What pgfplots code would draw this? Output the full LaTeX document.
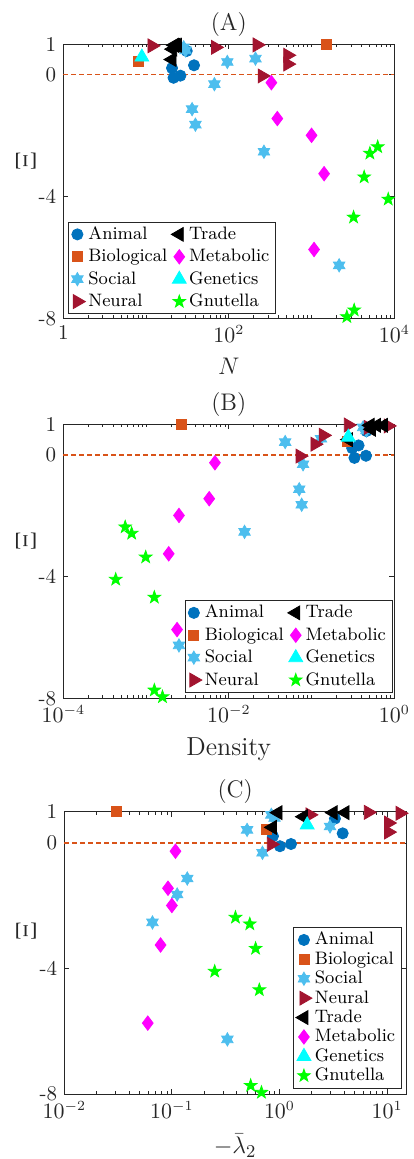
\documentclass[border=0pt]{standalone}
\usepackage{pgfplots}
\usepackage{pgfplotstable}
\pgfplotsset{compat=1.18}

\definecolor{cAnimal}{rgb}{0,0.447,0.741}
\definecolor{cBio}{rgb}{0.85,0.325,0.098}
\definecolor{cSocial}{rgb}{0.301,0.745,0.933}
\definecolor{cNeural}{rgb}{0.635,0.078,0.184}
\definecolor{cMetab}{rgb}{1,0,1}
\definecolor{cGenet}{rgb}{0,1,1}
\definecolor{cGnut}{rgb}{0,1,0}
\definecolor{axgray}{rgb}{0.15,0.15,0.15}

% six-pointed star (hexagram)
\pgfdeclareplotmark{hexstar}{%
  \pgfpathmoveto{\pgfpointpolar{90}{\pgfplotmarksize}}%
  \pgfpathlineto{\pgfpointpolar{120}{0.577\pgfplotmarksize}}%
  \pgfpathlineto{\pgfpointpolar{150}{\pgfplotmarksize}}%
  \pgfpathlineto{\pgfpointpolar{180}{0.577\pgfplotmarksize}}%
  \pgfpathlineto{\pgfpointpolar{210}{\pgfplotmarksize}}%
  \pgfpathlineto{\pgfpointpolar{240}{0.577\pgfplotmarksize}}%
  \pgfpathlineto{\pgfpointpolar{270}{\pgfplotmarksize}}%
  \pgfpathlineto{\pgfpointpolar{300}{0.577\pgfplotmarksize}}%
  \pgfpathlineto{\pgfpointpolar{330}{\pgfplotmarksize}}%
  \pgfpathlineto{\pgfpointpolar{0}{0.577\pgfplotmarksize}}%
  \pgfpathlineto{\pgfpointpolar{30}{\pgfplotmarksize}}%
  \pgfpathlineto{\pgfpointpolar{60}{0.577\pgfplotmarksize}}%
  \pgfpathclose\pgfusepathqfillstroke}
% five-pointed star
\pgfdeclareplotmark{fivestar}{%
  \pgfpathmoveto{\pgfpointpolar{90}{\pgfplotmarksize}}%
  \pgfpathlineto{\pgfpointpolar{126}{0.4\pgfplotmarksize}}%
  \pgfpathlineto{\pgfpointpolar{162}{\pgfplotmarksize}}%
  \pgfpathlineto{\pgfpointpolar{198}{0.4\pgfplotmarksize}}%
  \pgfpathlineto{\pgfpointpolar{234}{\pgfplotmarksize}}%
  \pgfpathlineto{\pgfpointpolar{270}{0.4\pgfplotmarksize}}%
  \pgfpathlineto{\pgfpointpolar{306}{\pgfplotmarksize}}%
  \pgfpathlineto{\pgfpointpolar{342}{0.4\pgfplotmarksize}}%
  \pgfpathlineto{\pgfpointpolar{18}{\pgfplotmarksize}}%
  \pgfpathlineto{\pgfpointpolar{54}{0.4\pgfplotmarksize}}%
  \pgfpathclose\pgfusepathqfillstroke}

% columns: N = size, D = density, L = -lambda_2, Xi
\pgfplotstableread{
N D L Xi
31 0.46 3.28 0.78
38 0.37 3.87 0.31
20.6 0.31 0.87 0.22
26 0.455 1.28 -0.03
21.5 0.33 1.01 -0.10
}\tabAnimal
\pgfplotstableread{
N D L Xi
8.0 0.27 0.76 0.45
1510 0.0027 0.0303 1.0
}\tabBio
\pgfplotstableread{
N D L Xi
28.5 0.42 0.84 0.90
30 0.46 0.90 0.80
96 0.048 0.50 0.42
210 0.13 2.95 0.53
67 0.079 0.695 -0.31
36 0.071 0.139 -1.13
39.5 0.076 0.112 -1.64
266 0.0155 0.066 -2.53
2155 0.0025 0.328 -6.26
}\tabSocial
\pgfplotstableread{
N D L Xi
11.8 0.845 13.2 0.95
69 0.485 1.92 0.90
220 0.278 6.7 0.98
515 0.139 10.3 0.64
515 0.110 10.3 0.35
253 0.0726 0.84 -0.04
}\tabNeural
\pgfplotstableread{
N D L Xi
22 0.51 0.97 0.97
21 0.53 1.67 0.84
24 0.61 3.16 0.97
23 0.74 4.07 0.97
20.6 0.28 0.86 0.50
}\tabTrade
\pgfplotstableread{
N D L Xi
327 0.0068 0.108 -0.26
386 0.0058 0.092 -1.44
1000 0.0025 0.100 -1.99
1418 0.00188 0.0785 -3.25
1072 0.00237 0.0597 -5.74
}\tabMetab
\pgfplotstableread{
N D L Xi
8.9 0.278 1.81 0.58
}\tabGenet
\pgfplotstableread{
N D L Xi
6300 0.00056 0.39 -2.37
5070 0.00067 0.53 -2.58
4325 0.00099 0.60 -3.36
8450 0.00043 0.25 -4.09
3220 0.00126 0.65 -4.68
3275 0.00126 0.54 -7.73
2670 0.00158 0.68 -7.95
}\tabGnut

\pgfplotsset{
  every axis/.append style={
    scale only axis, clip=false,
    ymin=-8, ymax=1, ytick={-8,-4,0,1}, yticklabels={-8,-4,0,1},
    axis line style={axgray, line width=0.4pt},
    every tick/.append style={axgray, line width=0.4pt},
    major tick length=2.5pt, minor tick length=1.5pt,
    tick label style={font=\fontsize{10.5}{12}\selectfont, text=axgray},
    label style={font=\fontsize{13}{15}\selectfont, text=axgray},
    title style={font=\fontsize{12}{14}\selectfont, text=axgray, yshift=-5.5pt},
    xlabel style={yshift=-1pt},
    legend cell align=left,
    legend style={font=\fontsize{9}{10.5}\selectfont, draw=axgray, line width=0.4pt,
      inner xsep=1.5pt, inner ysep=0.5pt,
      nodes={inner sep=1.5pt, text height=6.6pt, text depth=1.6pt},
      /tikz/every even column/.append style={column sep=0.5pt}},
  },
  legend image code/.code={\draw[mark repeat=2,mark phase=2,#1] plot coordinates {(0cm,0cm)(0.15cm,0cm)(0.3cm,0cm)};},
  pAnimal/.style={only marks, mark=*, color=cAnimal, mark size=2.8pt},
  pBio/.style={only marks, mark=square*, color=cBio, mark size=2.5pt},
  pSocial/.style={only marks, mark=hexstar, color=cSocial, mark size=3.3pt},
  pNeural/.style={only marks, mark=triangle*, color=cNeural, mark size=4pt, mark options={rotate=-90}},
  pTrade/.style={only marks, mark=triangle*, color=black, mark size=4pt, mark options={rotate=90}},
  pMetab/.style={only marks, mark=diamond*, color=cMetab, mark size=3.6pt},
  pGenet/.style={only marks, mark=triangle*, color=cGenet, mark size=4pt},
  pGnut/.style={only marks, mark=fivestar, color=cGnut, mark size=3.3pt},
  zeroline/.style={dash pattern=on 2.5pt off 1.5pt, color=cBio, line width=0.75pt, forget plot},
}
\tikzset{xilabel/.style={rotate=90, font=\fontsize{14}{16}\selectfont, text=axgray, inner sep=0pt}}

\begin{document}
\begin{tikzpicture}
\useasboundingbox (0pt,0pt) rectangle (206.5pt,-579.5pt);

% (A)
\begin{axis}[xmode=log, at={(31.65pt,-22.15pt)}, anchor=north west,
  width=165.5pt, height=137pt, title={(A)},
  xmin=1, xmax=10000, xtick={1,100,10000}, xticklabels={1,$10^2$,$10^4$},
  minor xtick={2,3,4,5,6,7,8,9,10,20,30,40,50,60,70,80,90,200,300,400,500,600,700,800,900,1000,2000,3000,4000,5000,6000,7000,8000,9000},
  xlabel={$N$},
  legend columns=4, transpose legend,
  legend style={at={(0.015,0.015)}, anchor=south west}]
\addplot[zeroline] coordinates {(1,0) (10000,0)};
\addplot[pAnimal] table[x=N,y=Xi] {\tabAnimal}; \addlegendentry{Animal}
\addplot[pBio] table[x=N,y=Xi] {\tabBio}; \addlegendentry{Biological}
\addplot[pSocial] table[x=N,y=Xi] {\tabSocial}; \addlegendentry{Social}
\addplot[pNeural] table[x=N,y=Xi] {\tabNeural}; \addlegendentry{Neural}
\addplot[pTrade] table[x=N,y=Xi] {\tabTrade}; \addlegendentry{Trade}
\addplot[pMetab] table[x=N,y=Xi] {\tabMetab}; \addlegendentry{Metabolic}
\addplot[pGenet] table[x=N,y=Xi] {\tabGenet}; \addlegendentry{Genetics}
\addplot[pGnut] table[x=N,y=Xi] {\tabGnut}; \addlegendentry{Gnutella}
\node[xilabel] at (axis description cs:-0.113,0.572) {$\Xi$};
\end{axis}

% (B)
\begin{axis}[xmode=log, at={(31.65pt,-212.2pt)}, anchor=north west,
  width=165.5pt, height=137pt, title={(B)},
  xmin=0.0001, xmax=1, xtick={0.0001,0.01,1},
  minor xtick={0.0002,0.0003,0.0004,0.0005,0.0006,0.0007,0.0008,0.0009,0.001,0.002,0.003,0.004,0.005,0.006,0.007,0.008,0.009,0.02,0.03,0.04,0.05,0.06,0.07,0.08,0.09,0.1,0.2,0.3,0.4,0.5,0.6,0.7,0.8,0.9},
  xlabel={Density},
  legend columns=4, transpose legend,
  legend style={at={(0.994,0.021)}, anchor=south east}]
\addplot[zeroline] coordinates {(0.0001,0) (1,0)};
\addplot[pAnimal] table[x=D,y=Xi] {\tabAnimal}; \addlegendentry{Animal}
\addplot[pBio] table[x=D,y=Xi] {\tabBio}; \addlegendentry{Biological}
\addplot[pSocial] table[x=D,y=Xi] {\tabSocial}; \addlegendentry{Social}
\addplot[pNeural] table[x=D,y=Xi] {\tabNeural}; \addlegendentry{Neural}
\addplot[pTrade] table[x=D,y=Xi] {\tabTrade}; \addlegendentry{Trade}
\addplot[pMetab] table[x=D,y=Xi] {\tabMetab}; \addlegendentry{Metabolic}
\addplot[pGenet] table[x=D,y=Xi] {\tabGenet}; \addlegendentry{Genetics}
\addplot[pGnut] table[x=D,y=Xi] {\tabGnut}; \addlegendentry{Gnutella}
\node[xilabel] at (axis description cs:-0.113,0.573) {$\Xi$};
\end{axis}

% (C)
\begin{axis}[xmode=log, at={(32.15pt,-405.85pt)}, anchor=north west,
  width=170.85pt, height=141.15pt, title={(C)},
  xmin=0.01, xmax=15, xtick={0.01,0.1,1,10},
  minor xtick={0.02,0.03,0.04,0.05,0.06,0.07,0.08,0.09,0.2,0.3,0.4,0.5,0.6,0.7,0.8,0.9,2,3,4,5,6,7,8,9},
  xlabel={$-\bar{\lambda}_2$},
  legend style={at={(0.987,0.02)}, anchor=south east, /tikz/row sep=-1.5pt}]
\addplot[zeroline] coordinates {(0.01,0) (15,0)};
\addplot[pAnimal] table[x=L,y=Xi] {\tabAnimal}; \addlegendentry{Animal}
\addplot[pBio] table[x=L,y=Xi] {\tabBio}; \addlegendentry{Biological}
\addplot[pSocial] table[x=L,y=Xi] {\tabSocial}; \addlegendentry{Social}
\addplot[pNeural] table[x=L,y=Xi] {\tabNeural}; \addlegendentry{Neural}
\addplot[pTrade] table[x=L,y=Xi] {\tabTrade}; \addlegendentry{Trade}
\addplot[pMetab] table[x=L,y=Xi] {\tabMetab}; \addlegendentry{Metabolic}
\addplot[pGenet] table[x=L,y=Xi] {\tabGenet}; \addlegendentry{Genetics}
\addplot[pGnut] table[x=L,y=Xi] {\tabGnut}; \addlegendentry{Gnutella}
\node[xilabel] at (axis description cs:-0.112,0.577) {$\Xi$};
\end{axis}
\end{tikzpicture}
\end{document}
